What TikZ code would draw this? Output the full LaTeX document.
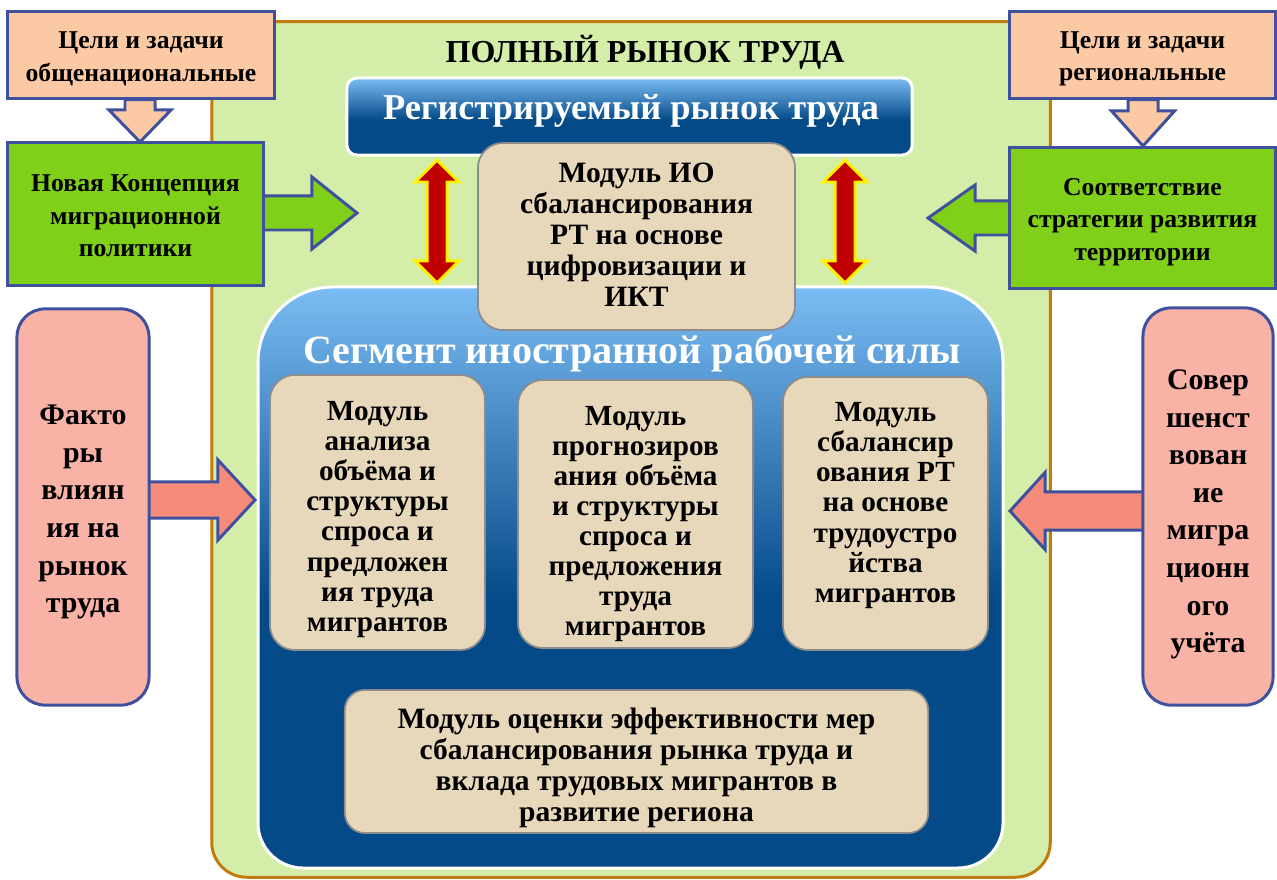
\documentclass[tikz,border=0pt]{standalone}
\usepackage{fontspec}
\setmainfont{Liberation Serif}
\usetikzlibrary{calc}

\definecolor{peach}{HTML}{FBCAA5}
\definecolor{leaf}{HTML}{80D01A}
\definecolor{frameblue}{HTML}{3F519E}
\definecolor{pale}{HTML}{D4EEAA}
\definecolor{ochre}{HTML}{C27C0E}
\definecolor{sand}{HTML}{E8D8BB}
\definecolor{rose}{HTML}{F8B2A6}
\definecolor{salmon}{HTML}{F58B7B}
\definecolor{deepblue}{HTML}{044A88}
\definecolor{skyblue}{HTML}{7BBCF4}
\definecolor{darkred}{HTML}{C00000}

\pgfdeclareverticalshading{bluefade}{100bp}{color(0bp)=(deepblue); color(48bp)=(deepblue); color(75bp)=(skyblue); color(100bp)=(skyblue)}

\tikzstyle{goalbox}=[draw=frameblue, line width=0.85pt, fill=peach, inner sep=0pt]
\tikzstyle{policybox}=[goalbox, fill=leaf]
\tikzstyle{factorbox}=[goalbox, fill=rose, rounded corners=0.28cm]
\tikzstyle{modbox}=[draw=black!45, line width=0.5pt, fill=sand, rounded corners=0.25cm, inner sep=0pt]
\tikzstyle{goaltext}=[align=center, inner sep=0pt, font=\fontsize{7.3}{9.2}\selectfont\bfseries]
\tikzstyle{factortext}=[align=center, inner sep=0pt, font=\fontsize{8.5}{10.7}\selectfont\bfseries]
\tikzstyle{modtext}=[align=center, inner sep=0pt, font=\fontsize{8.3}{8.55}\selectfont\bfseries]
\tikzstyle{wideText}=[align=center, inner sep=0pt, font=\fontsize{8.4}{8.8}\selectfont\bfseries]
\tikzstyle{bluebar}=[shade, shading=bluefade, draw=white, line width=0.85pt]
\tikzstyle{blockarrow}=[draw=frameblue, line width=0.85pt, line join=miter]
\tikzstyle{redarrow}=[draw=yellow, fill=darkred, line width=0.85pt, line join=miter]

\newcommand{\pix}{0.2845pt}
% block arrow, horizontal: style, from, tip, half shaft, half head, head length (px)
\newcommand{\drawHarrow}[6]{
\draw[#1] let \p1=(#2), \p2=(#3), \n1={sign(\x2-\x1)} in
  (\x1,\y2+#4*\pix) -- (\x2-\n1*#6*\pix,\y2+#4*\pix) -- (\x2-\n1*#6*\pix,\y2+#5*\pix) -- (\p2)
  -- (\x2-\n1*#6*\pix,\y2-#5*\pix) -- (\x2-\n1*#6*\pix,\y2-#4*\pix) -- (\x1,\y2-#4*\pix) -- cycle;
}
% block arrow, vertical (down)
\newcommand{\drawVarrow}[6]{
\draw[#1] let \p1=(#2), \p2=(#3) in
  (\x2+#4*\pix,\y1) -- (\x2+#4*\pix,\y2+#6*\pix) -- (\x2+#5*\pix,\y2+#6*\pix) -- (\p2)
  -- (\x2-#5*\pix,\y2+#6*\pix) -- (\x2-#4*\pix,\y2+#6*\pix) -- (\x2-#4*\pix,\y1) -- cycle;
}
% double arrow between two tips
\newcommand{\drawDarrow}[2]{
\draw[redarrow] let \p1=(#1), \p2=(#2) in
  (\p1) -- (\x1+22*\pix,\y1-22*\pix) -- (\x1+10*\pix,\y1-22*\pix) -- (\x1+10*\pix,\y2+22*\pix)
  -- (\x1+22*\pix,\y2+22*\pix) -- (\p2) -- (\x1-22*\pix,\y2+22*\pix) -- (\x1-10*\pix,\y2+22*\pix)
  -- (\x1-10*\pix,\y1-22*\pix) -- (\x1-22*\pix,\y1-22*\pix) -- cycle;
}

\begin{document}
\begin{tikzpicture}[x=0.01cm, y=-0.01cm]
\useasboundingbox (0,0) rectangle (1277,880);

% full market frame
\node[draw=ochre, fill=pale, line width=0.85pt, rounded corners=0.35cm, minimum width=8.38cm, minimum height=8.55cm] (full) at (631,449.5) {};
\node[font=\fontsize{9.1}{10}\selectfont\bfseries] (title) at (645,52) {ПОЛНЫЙ РЫНОК ТРУДА};

% segment of foreign labour
\shadedraw[bluebar] (258,600) [rounded corners=0.75cm] -- (258,287) -- (1003,287) -- (1003,600)
  [rounded corners=0.45cm] -- (1003,868) -- (258,868) -- cycle;
\node[white, font=\fontsize{11.4}{13}\selectfont\bfseries] (segtitle) at (632,353) {Сегмент иностранной рабочей силы};

% registered market
\node[bluebar, rounded corners=0.1cm, minimum width=5.65cm, minimum height=0.77cm] (reg) at (629.5,116.5) {};
\node[white, font=\fontsize{10.35}{12}\selectfont\bfseries] (regtitle) at (631,111) {Регистрируемый рынок труда};

% modules
\node[modbox, minimum width=3.17cm, minimum height=1.87cm] (modIO) at (636.5,236.5) {};
\node[wideText] (modIOtext) at ($(modIO)+(0,-2)$) {Модуль ИО\\сбалансирования\\РТ на основе\\цифровизации и\\ИКТ};
\node[modbox, minimum width=2.15cm, minimum height=2.75cm] (modA) at (377.5,512.5) {};
\node[modtext] (modAtext) at ($(modA)+(0,7)$)
  {Модуль\\анализа\\объёма и\\структуры\\спроса и\\предложен\\ия труда\\мигрантов};
\node[modbox, minimum width=2.35cm, minimum height=2.68cm] (modB) at (635.5,514) {};
\node[modtext] (modBtext) at ($(modB)+(0,10)$)
  {Модуль\\прогнозиров\\ания объёма\\и структуры\\спроса и\\предложения\\труда\\мигрантов};
\node[modbox, minimum width=2.05cm, minimum height=2.73cm] (modC) at (885.5,513.5) {};
\node[modtext] (modCtext) at ($(modC)+(0,-8)$)
  {Модуль\\сбалансир\\ования РТ\\на основе\\трудоустро\\йства\\мигрантов};
\node[modbox, rounded corners=0.2cm, minimum width=5.83cm, minimum height=1.43cm] (modEval) at (636.5,761.5) {};
\node[wideText] (modEvaltext) at ($(modEval)+(0,6)$)
  {Модуль оценки эффективности мер\\сбалансирования рынка труда и\\вклада трудовых мигрантов в\\развитие региона};

% arrow tips
\coordinate (tipGN) at (140,142);
\coordinate (tipGR) at (1143,146);
\coordinate (tipCon) at (357,213);
\coordinate (tipStr) at (928,218);
\coordinate (tipFac) at (255,500);
\coordinate (tipImp) at (1010,511);
\coordinate (upL) at (437,160);
\coordinate (dnL) at (437,283);
\coordinate (upR) at (845,160);
\coordinate (dnR) at (845,283);

\drawDarrow{upL}{dnL}
\drawDarrow{upR}{dnR}

% outside boxes
\node[goalbox, minimum width=2.66cm, minimum height=0.86cm] (goalN) at (141,55) {};
\node[goaltext] (goalNtext) at ($(goalN)+(0,4)$) {Цели и задачи\\общенациональные};
\node[goalbox, minimum width=2.65cm, minimum height=0.86cm] (goalR) at (1142.5,55) {};
\node[goaltext] (goalRtext) at ($(goalR)+(0,4)$) {Цели и задачи\\региональные};
\drawVarrow{blockarrow, fill=peach}{goalN.south}{tipGN}{15}{31}{32}
\drawVarrow{blockarrow, fill=peach}{goalR.south}{tipGR}{15}{31.5}{35}

\drawHarrow{blockarrow, fill=leaf}{135,214}{tipCon}{17}{36}{45}
\drawHarrow{blockarrow, fill=leaf}{1142,218}{tipStr}{17}{33}{47}
\node[policybox, minimum width=2.55cm, minimum height=1.42cm] (concept) at (135.5,214) {};
\node[goaltext] (concepttext) at ($(concept)+(0,2)$) {Новая Концепция\\миграционной\\политики};
\node[policybox, minimum width=2.65cm, minimum height=1.40cm] (strategy) at (1142.5,218) {};
\node[goaltext] (strategytext) at ($(strategy)+(0,4)$) {Соответствие\\стратегии развития\\территории};

\drawHarrow{blockarrow, fill=salmon}{83,500}{tipFac}{18}{40}{37}
\drawHarrow{blockarrow, fill=salmon}{1208,511}{tipImp}{19}{38.5}{35}
\node[factorbox, minimum width=1.32cm, minimum height=3.96cm] (factors) at (83,507) {};
\node[factortext] (factorstext) at ($(factors)+(0,5)$) {Факто\\ры\\влиян\\ия на\\рынок\\труда};
\node[factorbox, minimum width=1.30cm, minimum height=3.97cm] (improve) at (1208,506.5) {};
\node[factortext] (improvetext) at ($(improve)+(0,8)$) {Совер\\шенст\\вован\\ие\\мигра\\ционн\\ого\\учёта};
\end{tikzpicture}
\end{document}
